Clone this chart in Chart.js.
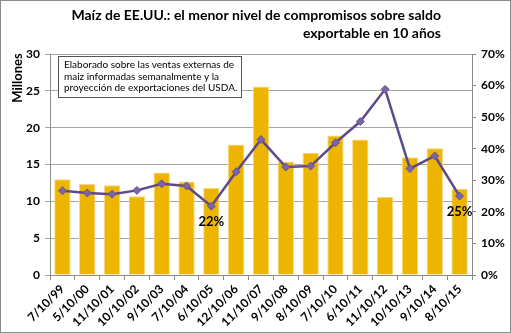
<!DOCTYPE html>
<html>
<head>
<meta charset="utf-8">
<script src="https://cdn.jsdelivr.net/npm/chart.js@4"></script>
<style>
  html, body { margin: 0; padding: 0; background: #fff; }
  #wrap { width: 511px; height: 333px; position: relative; }
</style>
</head>
<body>
<div id="wrap"><canvas id="c" width="511" height="333"></canvas></div>
<script>
const fechas = ["7/10/99", "5/10/00", "11/10/01", "10/10/02", "9/10/03", "7/10/04", "6/10/05", "12/10/06", "11/10/07",
  "9/10/08", "8/10/09", "7/10/10", "6/10/11", "11/10/12", "10/10/13", "9/10/14", "8/10/15"];
const compromisos = [13.0, 12.35, 12.2, 10.7, 13.9, 12.7, 11.8, 17.7, 25.6, 15.4, 16.6, 18.95, 18.4, 10.6, 16.0, 17.2, 11.7];
const porcentaje = [26.7, 26.0, 25.6, 26.8, 28.9, 28.2, 21.8, 32.7, 42.9, 34.2, 34.5, 41.9, 48.6, 58.8, 33.7, 37.7, 25.0];
const etiquetas = { 6: "22%", 16: "25%" };
const titulo = ["Maíz de EE.UU.: el menor nivel de compromisos sobre saldo", "exportable en 10 años"];
const nota = ["Elaborado sobre las ventas externas de", "maiz informadas semanalmente y la", "proyección de exportaciones del USDA."];

const FONT = "Lato, 'Open Sans', sans-serif";

const extras = {
  id: "extras",
  afterDraw(chart) {
    const ctx = chart.ctx;
    ctx.save();
    // borde exterior
    ctx.strokeStyle = "#8c8c8c";
    ctx.lineWidth = 1;
    ctx.strokeRect(0.5, 0.5, chart.width - 1, chart.height - 1);

    // título alineado a la derecha
    ctx.fillStyle = "#000";
    ctx.font = "bold 14px " + FONT;
    ctx.textAlign = "right";
    ctx.textBaseline = "alphabetic";
    ctx.fillText(titulo[0], 441, 20);
    ctx.fillText(titulo[1], 441, 38);

    // título eje
    ctx.save();
    ctx.translate(18, 78);
    ctx.rotate(-Math.PI / 2);
    ctx.textAlign = "center";
    ctx.textBaseline = "middle";
    ctx.font = "bold 13px " + FONT;
    ctx.fillText("Millones", 0, 0);
    ctx.restore();

    // cuadro de nota
    ctx.fillStyle = "#fff";
    ctx.fillRect(58, 56, 183, 41);
    ctx.strokeStyle = "#555";
    ctx.strokeRect(58.5, 56.5, 183, 41);
    ctx.fillStyle = "#000";
    ctx.font = "10px " + FONT;
    ctx.textAlign = "left";
    ctx.textBaseline = "middle";
    nota.forEach((t, i) => ctx.fillText(t, 64, 65 + i * 11.5));

    // etiquetas de porcentaje
    const meta = chart.getDatasetMeta(1);
    ctx.font = "bold 13px " + FONT;
    ctx.textAlign = "center";
    Object.keys(etiquetas).forEach((k) => {
      const p = meta.data[k];
      ctx.fillText(etiquetas[k], p.x, p.y + 16);
    });
    ctx.restore();
  },
};

new Chart(document.getElementById("c"), {
  data: {
    labels: fechas,
    datasets: [
      {
        type: "bar",
        data: compromisos,
        yAxisID: "y",
        backgroundColor: "#EDB400",
        borderColor: "#F5D77A",
        borderWidth: { top: 1, left: 1, right: 1, bottom: 0 },
        barPercentage: 0.66,
        categoryPercentage: 1,
        order: 2,
      },
      {
        type: "line",
        data: porcentaje,
        yAxisID: "y1",
        borderColor: "#5E4A8A",
        borderWidth: 2.5,
        pointStyle: "rectRot",
        pointRadius: 4,
        pointBackgroundColor: "#7B64A6",
        pointBorderColor: "#6A5597",
        pointBorderWidth: 1,
        tension: 0,
        order: 1,
      },
    ],
  },
  options: {
    responsive: false,
    animation: false,
    layout: { padding: { top: 54, right: 0, left: 0, bottom: 0 } },
    plugins: { legend: { display: false }, tooltip: { enabled: false } },
    scales: {
      x: {
        grid: { offset: true, drawOnChartArea: false, color: "#8c8c8c", tickLength: 5 },
        border: { color: "#8c8c8c" },
        ticks: {
          autoSkip: false, minRotation: 45, maxRotation: 45, padding: 2,
          color: "#000", font: { family: FONT, size: 12, weight: "bold" },
        },
        afterFit: (s) => { s.height = 58; },
      },
      y: {
        position: "left",
        min: 0, max: 30,
        ticks: { stepSize: 5, padding: 5, color: "#000", font: { family: FONT, size: 12, weight: "bold" } },
        grid: { color: "#a6a6a6", tickLength: 5 },
        border: { color: "#8c8c8c" },
        afterFit: (s) => { s.width = 50; },
      },
      y1: {
        position: "right",
        min: 0, max: 70,
        ticks: {
          stepSize: 10, padding: 5, color: "#000", font: { family: FONT, size: 12, weight: "bold" },
          callback: (v) => v + "%",
        },
        grid: { drawOnChartArea: false, color: "#8c8c8c", tickLength: 4 },
        border: { color: "#8c8c8c" },
        afterFit: (s) => { s.width = 39; },
      },
    },
  },
  plugins: [extras],
});
</script>
</body>
</html>
